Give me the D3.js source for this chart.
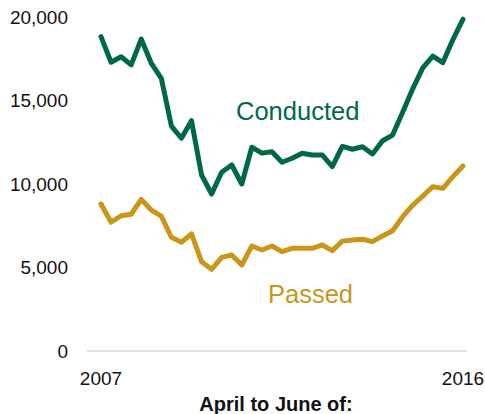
<!DOCTYPE html>
<html>
<head>
<meta charset="utf-8">
<script src="https://cdnjs.cloudflare.com/ajax/libs/d3/7.8.5/d3.min.js"></script>
<style>
	body { margin: 0; background: #fff; }
	svg { display: block; font-family: 'Liberation Sans', Arial, sans-serif; }
</style>
</head>
<body>
<div class="chart"></div>
<script>
// April-June quarters, 2007 to 2016 (quarterly points)
const quarters = d3.range(37);
const xLabels = [{ i: 0, text: '2007' }, { i: 36, text: '2016' }];
const yTicks = [0, 5000, 10000, 15000, 20000];

const conducted = [
	18820, 17290, 17620, 17130, 18680, 17230, 16330, 13470, 12740, 13790,
	10540, 9400, 10700, 11140, 10000, 12200, 11850, 11930, 11300, 11540,
	11840, 11740, 11740, 11040, 12250, 12080, 12230, 11800, 12590, 12930,
	14300, 15700, 16950, 17660, 17270, 18650, 19870
];
const passed = [
	8800, 7710, 8100, 8190, 9080, 8440, 8080, 6810, 6510, 7010,
	5350, 4890, 5610, 5750, 5150, 6290, 6050, 6290, 5950, 6150,
	6150, 6150, 6350, 6010, 6580, 6650, 6690, 6550, 6890, 7200,
	8040, 8740, 9280, 9840, 9740, 10440, 11080
];

function drawChart() {
	let width = 485,
		height = 414,
		green = '#00674b',
		gold = '#c9961a',
		xScale = d3.scalePoint().domain(quarters).range([101, 463]),
		yScale = d3.scaleLinear().domain([0, 20000]).range([351, 17]),
		svg = null,
		line = null;

	svg = d3.select('.chart').append('svg')
		.attr('width', width)
		.attr('height', height);

	// zero baseline
	svg.append('line')
		.attr('x1', 87)
		.attr('x2', 467)
		.attr('y1', yScale(0))
		.attr('y2', yScale(0))
		.attr('stroke', '#d9d9d9')
		.attr('stroke-width', 1.5);

	// y tick labels
	svg.append('g')
		.selectAll('text')
		.data(yTicks)
		.enter().append('text')
		.attr('x', 68)
		.attr('y', d => yScale(d))
		.attr('dy', '0.35em')
		.attr('text-anchor', 'end')
		.attr('font-size', 19)
		.attr('fill', '#111')
		.text(d => d3.format(',')(d));

	// x labels
	svg.append('g')
		.selectAll('text')
		.data(xLabels)
		.enter().append('text')
		.attr('x', d => xScale(d.i))
		.attr('y', 385)
		.attr('text-anchor', 'middle')
		.attr('font-size', 19)
		.attr('fill', '#111')
		.text(d => d.text);

	svg.append('text')
		.attr('x', 276)
		.attr('y', 411)
		.attr('text-anchor', 'middle')
		.attr('font-size', 20)
		.attr('font-weight', 'bold')
		.attr('fill', '#111')
		.text('April to June of:');

	line = d3.line()
		.x((d, i) => xScale(i))
		.y(d => yScale(d));

	svg.append('path')
		.datum(passed)
		.attr('fill', 'none')
		.attr('stroke', gold)
		.attr('stroke-width', 5)
		.attr('stroke-linejoin', 'round')
		.attr('stroke-linecap', 'round')
		.attr('d', line);

	svg.append('path')
		.datum(conducted)
		.attr('fill', 'none')
		.attr('stroke', green)
		.attr('stroke-width', 5)
		.attr('stroke-linejoin', 'round')
		.attr('stroke-linecap', 'round')
		.attr('d', line);

	// series labels
	svg.append('text')
		.attr('x', 236)
		.attr('y', 120)
		.attr('font-size', 25.5)
		.attr('fill', green)
		.text('Conducted');

	svg.append('text')
		.attr('x', 268)
		.attr('y', 303)
		.attr('font-size', 25.5)
		.attr('fill', gold)
		.text('Passed');
}

drawChart();
</script>
</body>
</html>
